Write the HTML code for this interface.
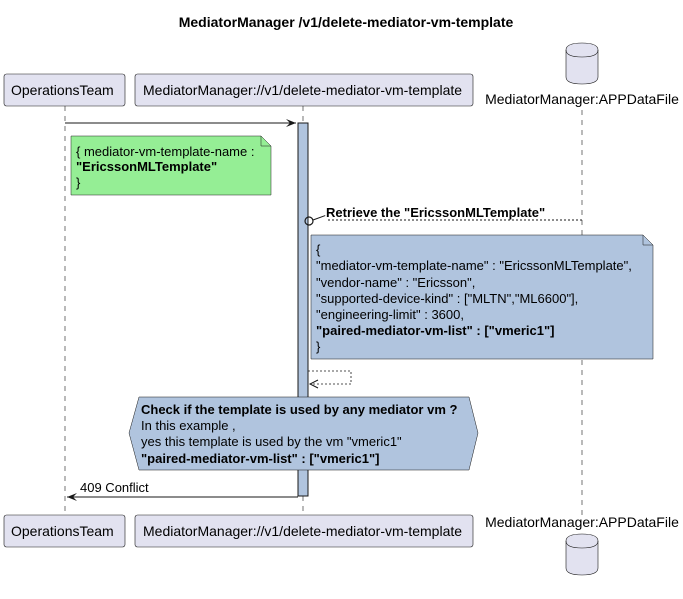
<!DOCTYPE html>
<html><head><meta charset="utf-8"><style>
body{margin:0;background:#fff}
svg text{font-family:"Liberation Sans",sans-serif;font-size:13px;fill:#000}
.b{font-weight:bold}
.p{font-size:14px}
</style></head><body>
<svg width="683" height="594" viewBox="0 0 683 594" xmlns="http://www.w3.org/2000/svg">
<text x="346" y="27" text-anchor="middle" class="b" style="font-size:14px">MediatorManager /v1/delete-mediator-vm-template</text>
<g stroke="#181818" stroke-width="0.6" stroke-dasharray="5,5">
<line x1="65" y1="106" x2="65" y2="515"/>
<line x1="303" y1="106" x2="303" y2="515"/>
<line x1="582" y1="110" x2="582" y2="515"/>
</g>
<g fill="#E2E2F0" stroke="#181818" stroke-width="0.6">
<rect x="4" y="74" width="121" height="32" rx="2.5"/>
<rect x="135" y="74" width="338" height="32" rx="2.5"/>
<rect x="4" y="515" width="121" height="32" rx="2.5"/>
<rect x="135" y="515" width="338" height="32" rx="2.5"/>
<path d="M566,50 Q566,43 582,43 Q598,43 598,50 L598,77 Q598,84 582,84 Q566,84 566,77 Z"/>
<path d="M566,50 Q566,57 582,57 Q598,57 598,50" fill="none"/>
<path d="M566,541 Q566,534 582,534 Q598,534 598,541 L598,568 Q598,575 582,575 Q566,575 566,568 Z"/>
<path d="M566,541 Q566,548 582,548 Q598,548 598,541" fill="none"/>
</g>
<text x="11" y="95" class="p">OperationsTeam</text>
<text x="143" y="95" class="p">MediatorManager://v1/delete-mediator-vm-template</text>
<text x="11" y="536" class="p">OperationsTeam</text>
<text x="143" y="536" class="p">MediatorManager://v1/delete-mediator-vm-template</text>
<text x="582" y="104" text-anchor="middle" class="p">MediatorManager:APPDataFile</text>
<text x="582" y="527" text-anchor="middle" class="p">MediatorManager:APPDataFile</text>
<rect x="298" y="123" width="10" height="373" fill="#B0C4DE" stroke="#181818" stroke-width="1"/>
<line x1="65" y1="123" x2="296" y2="123" stroke="#181818" stroke-width="1"/>
<path d="M286,119 L296,123 L286,127 L290,123 Z" fill="#181818"/>
<path d="M71,136 L261,136 L271,146 L271,195 L71,195 Z" fill="#90EE90" opacity="0.95" stroke="#181818" stroke-width="0.5"/>
<path d="M261,136 L261,146 L271,146" fill="none" stroke="#181818" stroke-width="0.5"/>
<text x="76" y="156">{ mediator-vm-template-name :</text>
<text x="76" y="171" class="b">"EricssonMLTemplate"</text>
<text x="76" y="187">}</text>
<line x1="582" y1="220" x2="326" y2="220" stroke="#181818" stroke-width="1" stroke-dasharray="2,2"/>
<line x1="326" y1="220" x2="313" y2="220" stroke="#181818" stroke-width="1" transform="rotate(-20 313 220)"/>
<circle cx="309" cy="221" r="4" fill="none" stroke="#181818" stroke-width="1.2"/>
<text x="326" y="217" class="b">Retrieve the "EricssonMLTemplate"</text>
<path d="M311,235 L643,235 L653,245 L653,359 L311,359 Z" fill="#B0C4DE" stroke="#181818" stroke-width="0.5"/>
<path d="M643,235 L643,245 L653,245" fill="none" stroke="#181818" stroke-width="0.5"/>
<text x="316" y="254">{</text>
<text x="316" y="270">"mediator-vm-template-name" : "EricssonMLTemplate",</text>
<text x="316" y="287">"vendor-name" : "Ericsson",</text>
<text x="316" y="303">"supported-device-kind" : ["MLTN","ML6600"],</text>
<text x="316" y="319">"engineering-limit" : 3600,</text>
<text x="316" y="335" class="b">"paired-mediator-vm-list" : ["vmeric1"]</text>
<text x="316" y="351">}</text>
<path d="M308,371 L351,371 L351,384 L311,384" fill="none" stroke="#181818" stroke-width="0.8" stroke-dasharray="2,2"/>
<path d="M318,380 L310,384 L318,388" fill="none" stroke="#181818" stroke-width="1"/>
<path d="M139,397 L469,397 L478,433 L469,470 L139,470 L129,433 Z" fill="#B0C4DE" stroke="#181818" stroke-width="0.5"/>
<text x="141" y="414" class="b">Check if the template is used by any mediator vm ?</text>
<text x="141" y="430">In this example ,</text>
<text x="141" y="446">yes this template is used by the vm "vmeric1"</text>
<text x="141" y="463" class="b">"paired-mediator-vm-list" : ["vmeric1"]</text>
<line x1="298" y1="497" x2="67" y2="497" stroke="#181818" stroke-width="1"/>
<path d="M77,493 L67,497 L77,501 L73,497 Z" fill="#181818"/>
<text x="80" y="492">409 Conflict</text>
</svg>
</body></html>
